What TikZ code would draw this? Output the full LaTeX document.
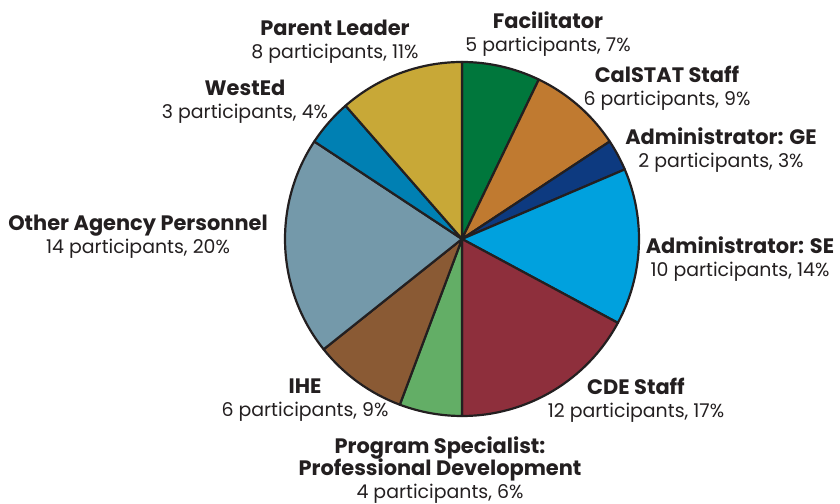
\documentclass[tikz,border=0pt]{standalone}
\usepackage{fontspec}
\setmainfont{Poppins}
\usepackage{tikz}
\usetikzlibrary{positioning}

\definecolor{ink}{HTML}{231F20}
\definecolor{facil}{HTML}{00773C}
\definecolor{calstat}{HTML}{C07A30}
\definecolor{admge}{HTML}{0D3A80}
\definecolor{admse}{HTML}{00A1DE}
\definecolor{cde}{HTML}{8E2F3C}
\definecolor{progspec}{HTML}{63AE66}
\definecolor{ihe}{HTML}{8A5A34}
\definecolor{otheragency}{HTML}{7499AA}
\definecolor{wested}{HTML}{0080B3}
\definecolor{parent}{HTML}{C8A837}

\newcommand{\hd}[1]{{\fontsize{21}{23}\selectfont\bfseries #1}}

\begin{document}
\begin{tikzpicture}
[
x=1bp, y=1bp,
slice/.style={draw=ink, line width=2.2bp, line join=round},
labelnode/.style={align=center, inner sep=0pt, text=ink, font=\fontsize{19}{23}\selectfont},
]
\useasboundingbox (0,0) rectangle (840,504);
\coordinate (ctr) at (462,265);

%Slices
\filldraw[slice, fill=facil] (ctr) -- ++(90:177) arc[start angle=90, end angle=64.286, radius=177] -- cycle;
\filldraw[slice, fill=calstat] (ctr) -- ++(64.286:177) arc[start angle=64.286, end angle=33.429, radius=177] -- cycle;
\filldraw[slice, fill=admge] (ctr) -- ++(33.429:177) arc[start angle=33.429, end angle=23.143, radius=177] -- cycle;
\filldraw[slice, fill=admse] (ctr) -- ++(23.143:177) arc[start angle=23.143, end angle=-28.286, radius=177] -- cycle;
\filldraw[slice, fill=cde] (ctr) -- ++(-28.286:177) arc[start angle=-28.286, end angle=-90, radius=177] -- cycle;
\filldraw[slice, fill=progspec] (ctr) -- ++(-90:177) arc[start angle=-90, end angle=-110.571, radius=177] -- cycle;
\filldraw[slice, fill=ihe] (ctr) -- ++(-110.571:177) arc[start angle=-110.571, end angle=-141.429, radius=177] -- cycle;
\filldraw[slice, fill=otheragency] (ctr) -- ++(-141.429:177) arc[start angle=-141.429, end angle=-213.429, radius=177] -- cycle;
\filldraw[slice, fill=wested] (ctr) -- ++(-213.429:177) arc[start angle=-213.429, end angle=-228.857, radius=177] -- cycle;
\filldraw[slice, fill=parent] (ctr) -- ++(-228.857:177) arc[start angle=-228.857, end angle=-270, radius=177] -- cycle;

%Labels
\node[labelnode] (parentlbl) at (335,462) {\hd{Parent Leader}\\8 participants, 11\%};
\node[labelnode] (faciltlbl) at (548,470) {\hd{Facilitator}\\5 participants, 7\%};
\node[labelnode] (calstatlbl) at (667,416) {\hd{CalSTAT Staff}\\6 participants, 9\%};
\node[labelnode] (admgelbl) at (721,354) {\hd{Administrator: GE}\\2 participants, 3\%};
\node[labelnode] (admselbl) at (740,245) {\hd{Administrator: SE}\\10 participants, 14\%};
\node[labelnode] (cdelbl) at (636,104) {\hd{CDE Staff}\\12 participants, 17\%};
\node[labelnode] (progspeclbl) at (440,34) {\hd{Program Specialist:}\\\hd{Professional Development}\\4 participants, 6\%};
\node[labelnode] (ihelbl) at (305,104) {\hd{IHE}\\6 participants, 9\%};
\node[labelnode] (otherlbl) at (138,267) {\hd{Other Agency Personnel}\\14 participants, 20\%};
\node[labelnode] (westedlbl) at (245,402) {\hd{WestEd}\\3 participants, 4\%};
\end{tikzpicture}
\end{document}
